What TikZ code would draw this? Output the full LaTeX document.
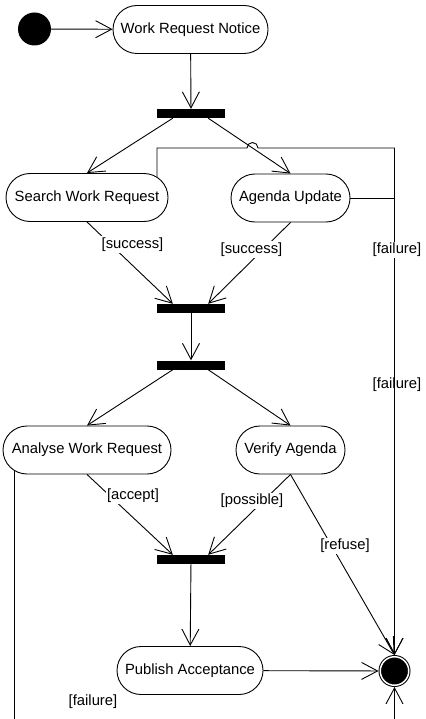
\documentclass[tikz,border=0pt]{standalone}
\usepackage{fontspec}
\setmainfont{Liberation Sans}
\usetikzlibrary{arrows.meta,shapes.misc,calc}

\tikzset{
  every node/.style={font=\fontsize{14.8}{17}\selectfont},
  flow/.style={draw=black, line width=0.9pt},
  arr/.style={flow, -{Straight Barb[length=16pt,width=17pt,line width=0.9pt]}},
  action/.style={rounded rectangle, draw=black, line width=0.9pt, fill=white,
    inner sep=0pt, minimum height=48pt},
  bar/.style={rectangle, fill=black, inner sep=0pt, minimum width=68pt, minimum height=9pt},
  startnode/.style={circle, fill=black, inner sep=0pt, minimum size=33pt},
  endnode/.style={circle, fill=black, draw=black, double=white, double distance=1.5pt,
    line width=1pt, inner sep=0pt, minimum size=28.5pt, outer sep=1.75pt},
  lbl/.style={fill=white, inner sep=1.5pt}
}

\begin{document}
\begin{tikzpicture}[x=1pt, y=-1pt]
\useasboundingbox (0,0) rectangle (425,719);
\clip (0,0) rectangle (425,719);

% states and synchronisation bars
\node[startnode] (init) at (34.5,29) {};
\node[action, minimum width=155pt] (wrn) at (190.5,29.5) {Work Request Notice};
\node[bar] (bar1) at (191,113.5) {};
\node[action, minimum width=162pt] (search) at (87,197.5) {Search Work Request};
\node[action, minimum width=119pt] (agenda) at (290.5,198) {Agenda Update};
\node[bar] (bar2) at (191,308.5) {};
\node[bar] (bar3) at (191,365) {};
\node[action, minimum width=168pt] (analyse) at (87,450) {Analyse Work Request};
\node[action, minimum width=109pt] (verify) at (290.5,450) {Verify Agenda};
\node[bar] (bar4) at (191,559.5) {};
\node[action, minimum width=146pt] (publish) at (190,670.5) {Publish Acceptance};
\node[endnode] (final) at (394.5,671) {};

% attachment points on the bars and boxes
\coordinate (b1l) at ([xshift=16pt]bar1.south west);
\coordinate (b1r) at ([xshift=-17pt]bar1.south east);
\coordinate (b2l) at ([xshift=16pt]bar2.north west);
\coordinate (b2r) at ([xshift=-17pt]bar2.north east);
\coordinate (b3l) at ([xshift=16pt]bar3.south west);
\coordinate (b3r) at ([xshift=-17pt]bar3.south east);
\coordinate (b4l) at ([xshift=16pt]bar4.north west);
\coordinate (b4r) at ([xshift=-17pt]bar4.north east);
\coordinate (sfail) at ([xshift=70pt,yshift=-4pt]search.north);
\coordinate (hopL) at (247,148);
\coordinate (afail) at ([xshift=-73pt,yshift=4pt]analyse.south);
\coordinate (below) at ($(afail)+(0,300)$);

% transitions
\draw[arr] (init) -- (wrn);
\draw[arr] (wrn) -- (bar1);
\draw[arr] (b1l) -- (search.north);
\draw[arr] (b1r) -- (agenda.north);
\draw[arr] (sfail) |- (hopL) arc[start angle=180, end angle=0, radius=5.5pt]
  -| (final.north) node[lbl, fill=none] at (397,385) {[failure]};
\draw[arr] (agenda.east) -| (final.north) node[lbl] at (397,250) {[failure]};
\draw[arr] (search.south) -- (b2l) node[lbl] at (132.5,244.5) {[success]};
\draw[arr] (agenda.south) -- (b2r) node[lbl] at (251.5,249.5) {[success]};
\draw[arr] (bar2) -- (bar3);
\draw[arr] (b3l) -- (analyse.north);
\draw[arr] (b3r) -- (verify.north);
\draw[arr] (analyse.south) -- (b4l) node[lbl] at (133,496) {[accept]};
\draw[arr] (verify.south) -- (b4r) node[lbl] at (252,501) {[possible]};
\draw[arr] (verify.south) -- (final.north) node[lbl] at (345,546) {[refuse]};
\draw[arr] (bar4) -- (publish);
\draw[arr] (publish) -- (final);
\draw[arr] (afail) -- (below) -| (final.south) node[lbl] at (93,702) {[failure]};
\end{tikzpicture}
\end{document}
